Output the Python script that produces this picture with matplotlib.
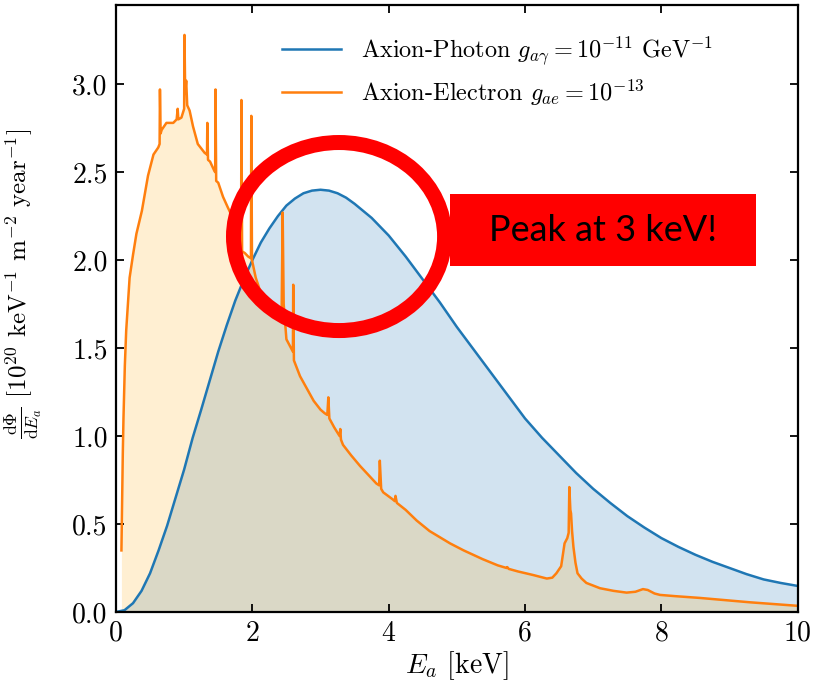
import matplotlib
matplotlib.use("Agg")
import matplotlib.pyplot as plt
from matplotlib.patches import Ellipse, Rectangle
from matplotlib.ticker import FormatStrFormatter, MultipleLocator

plt.rcParams["font.family"] = "cmr10"
plt.rcParams["mathtext.fontset"] = "cm"
plt.rcParams["axes.formatter.use_mathtext"] = True

# Primakoff (axion-photon) flux, 10^20 keV^-1 m^-2 yr^-1
energy_photon = [0.0, 0.125, 0.25, 0.375, 0.5, 0.625, 0.75, 0.875, 1.0, 1.125,
                 1.25, 1.375, 1.5, 1.625, 1.75, 1.875, 2.0, 2.125, 2.25, 2.375,
                 2.5, 2.625, 2.75, 2.875, 3.0, 3.125, 3.25, 3.375, 3.5, 3.625,
                 3.75, 3.875, 4.0, 4.125, 4.25, 4.375, 4.5, 4.625, 4.75, 5.0,
                 5.25, 5.5, 5.75, 6.0, 6.25, 6.5, 6.75, 7.0, 7.25, 7.5, 7.75,
                 8.0, 8.25, 8.5, 8.75, 9.0, 9.25, 9.5, 9.75, 10.0]
flux_photon = [0.0, 0.01, 0.05, 0.12, 0.22, 0.35, 0.49, 0.65, 0.81, 0.99,
               1.15, 1.315, 1.48, 1.63, 1.77, 1.89, 2.00, 2.10, 2.18, 2.25,
               2.31, 2.35, 2.38, 2.395, 2.40, 2.395, 2.38, 2.355, 2.32, 2.28,
               2.24, 2.19, 2.14, 2.08, 2.02, 1.955, 1.89, 1.825, 1.76, 1.62,
               1.49, 1.36, 1.23, 1.10, 0.99, 0.89, 0.79, 0.70, 0.62, 0.545, 0.48,
               0.42, 0.37, 0.325, 0.285, 0.25, 0.215, 0.185, 0.165, 0.148]

# ABC (axion-electron) flux with atomic lines
energy_electron = [0.08, 0.10, 0.11, 0.13, 0.15, 0.20, 0.25, 0.30, 0.38, 0.47,
                   0.55, 0.62, 0.64, 0.645, 0.655, 0.67, 0.74, 0.84, 0.89, 0.905,
                   0.915, 0.96, 1.00, 1.005, 1.015, 1.03, 1.045, 1.08, 1.13, 1.20,
                   1.30, 1.335, 1.34, 1.35, 1.38, 1.44, 1.455, 1.46, 1.47, 1.50,
                   1.57, 1.64, 1.75, 1.82, 1.835, 1.84, 1.85, 1.89, 1.94, 1.98,
                   1.985, 1.995, 2.05, 2.11, 2.20, 2.30, 2.40, 2.43, 2.445, 2.46,
                   2.50, 2.58, 2.595, 2.60, 2.61, 2.65, 2.70, 2.80, 2.90, 3.00,
                   3.06, 3.10, 3.115, 3.13, 3.20, 3.28, 3.29, 3.30, 3.33, 3.45,
                   3.58, 3.70, 3.82, 3.86, 3.87, 3.89, 3.92, 4.06, 4.09, 4.10,
                   4.12, 4.25, 4.41, 4.60, 4.90, 5.10, 5.38, 5.60, 5.73, 5.74,
                   5.76, 5.90, 6.12, 6.32, 6.40, 6.46, 6.53, 6.58, 6.62, 6.64,
                   6.65, 6.665, 6.675, 6.69, 6.71, 6.74, 6.77, 6.83, 6.90, 7.00,
                   7.10, 7.30, 7.49, 7.62, 7.73, 7.80, 7.90, 7.98, 8.20, 8.56,
                   9.00, 9.30, 9.65, 10.0]
flux_electron = [0.35, 0.90, 1.10, 1.40, 1.60, 1.90, 2.03, 2.15, 2.28, 2.48,
                 2.60, 2.64, 2.66, 2.97, 2.72, 2.74, 2.78, 2.78, 2.80, 2.86,
                 2.80, 2.81, 2.86, 3.28, 2.95, 3.02, 2.88, 2.85, 2.76, 2.66,
                 2.61, 2.60, 2.78, 2.57, 2.56, 2.51, 2.50, 2.97, 2.45, 2.44,
                 2.36, 2.30, 2.21, 2.08, 2.07, 2.91, 2.05, 2.04, 2.02, 2.01,
                 2.82, 2.00, 1.90, 1.83, 1.76, 1.70, 1.66, 1.70, 2.27, 1.75,
                 1.55, 1.49, 1.48, 1.86, 1.43, 1.39, 1.34, 1.27, 1.20, 1.15,
                 1.13, 1.12, 1.22, 1.10, 1.05, 1.00, 1.04, 0.98, 0.95, 0.89,
                 0.83, 0.78, 0.73, 0.72, 0.86, 0.70, 0.68, 0.64, 0.63, 0.66,
                 0.62, 0.58, 0.52, 0.46, 0.39, 0.35, 0.30, 0.265, 0.25, 0.255,
                 0.245, 0.23, 0.21, 0.19, 0.195, 0.22, 0.26, 0.39, 0.42, 0.45,
                 0.71, 0.58, 0.56, 0.46, 0.37, 0.28, 0.22, 0.19, 0.165, 0.15,
                 0.135, 0.12, 0.11, 0.115, 0.13, 0.125, 0.105, 0.097, 0.09, 0.08,
                 0.065, 0.055, 0.045, 0.035]

label_photon = r"Axion-Photon $g_{a\gamma} = 10^{-11}$ GeV$^{-1}$"
label_electron = r"Axion-Electron $g_{ae} = 10^{-13}$"

fig = plt.figure(figsize=(8.15, 6.87), dpi=100)
ax = fig.add_axes([0.1423, 0.1092, 0.8365, 0.8835])

ax.plot(energy_photon, flux_photon, color="tab:blue", lw=1.8, label=label_photon)
ax.fill_between(energy_photon, flux_photon, color="tab:blue", alpha=0.2, lw=0)
ax.plot(energy_electron, flux_electron, color="tab:orange", lw=1.8, label=label_electron)
ax.fill_between(energy_electron, flux_electron, color="#ffb020", alpha=0.2, lw=0)

ax.set_xlim(0, 10)
ax.set_ylim(0, 3.45)
ax.xaxis.set_major_locator(MultipleLocator(2))
ax.yaxis.set_major_locator(MultipleLocator(0.5))
ax.xaxis.set_major_formatter(FormatStrFormatter("%d"))
ax.yaxis.set_major_formatter(FormatStrFormatter("%.1f"))
ax.tick_params(direction="in", top=True, right=True, length=6, width=1.3,
               labelsize=20, pad=6)
for spine in ax.spines.values():
    spine.set_linewidth(1.6)

ax.set_xlabel(r"$E_a$ [keV]", fontsize=20, labelpad=2)
ax.set_ylabel(r"$\frac{\mathrm{d}\Phi}{\mathrm{d}E_a}$ [$10^{20}$ keV$^{-1}$ m$^{-2}$ year$^{-1}$]",
              fontsize=18)
ax.yaxis.set_label_coords(-0.105, 0.54)

ax.legend(loc="upper left", bbox_to_anchor=(0.211, 0.988), frameon=False,
          fontsize=17.5, handlelength=2.45, handletextpad=0.8, labelspacing=0.42)

# callout: ring around the photon peak and a label box
fig.add_artist(Ellipse((0.416, 0.6557), 0.259, 0.2737, transform=fig.transFigure,
                       fill=False, edgecolor="#ff0000", lw=10.8, zorder=5))
fig.add_artist(Rectangle((0.552, 0.6128), 0.3755, 0.1048, transform=fig.transFigure,
                         facecolor="#ff0000", edgecolor="none", zorder=6))
fig.text(0.740, 0.665, "Peak at 3 keV!", family="Lato", fontsize=26,
         ha="center", va="center", color="black", zorder=7)

fig.savefig("out.png", dpi=100)
